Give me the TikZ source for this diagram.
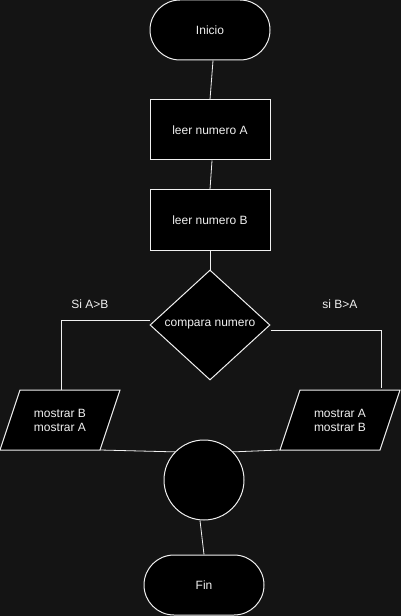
\documentclass[tikz,border=0pt]{standalone}
\usepackage{fontspec}
\setmainfont{Liberation Sans}
\usetikzlibrary{shapes.geometric}
\definecolor{bg}{HTML}{141414}
\definecolor{fg}{HTML}{F0F0F0}
\begin{document}
\begin{tikzpicture}[x=0.75pt,y=-0.75pt,
  font=\fontsize{9}{10.5}\selectfont,
  pill/.style={draw=fg, fill=black, text=fg, rounded corners=22.5pt, minimum width=90pt, minimum height=45pt, line width=0.75pt},
  procbox/.style={draw=fg, fill=black, text=fg, minimum width=90pt, minimum height=45pt, line width=0.75pt},
  decision/.style={diamond, draw=fg, fill=black, text=fg, aspect=1.09, inner sep=0pt, minimum width=90pt, minimum height=82.5pt, line width=0.75pt},
  joint/.style={circle, draw=fg, fill=black, inner sep=0pt, minimum size=60pt, line width=0.75pt},
  iobox/.style={draw=fg, fill=black, line width=0.75pt},
  iotext/.style={text=fg, align=center, inner sep=0pt},
  lbl/.style={text=fg, inner sep=1pt},
  conn/.style={draw=fg, line width=0.6pt}]
\useasboundingbox (0,0) rectangle (401,616);
\fill[bg] (0,0) rectangle (401,616);

% shapes
\node[pill] (inicio) at (210,30) {Inicio};
\node[procbox] (leerA) at (210,130) {leer numero A};
\node[procbox] (leerB) at (210,220) {leer numero B};
\node[decision] (cmp) at (210,325) {compara numero};
\path[iobox] (20,390) -- (120,390) -- (100,450) -- (0,450) -- cycle;
\path[iobox] (300,390) -- (400,390) -- (380,450) -- (280,450) -- cycle;
\node[iotext] (outL) at (60,420) {mostrar B\\mostrar A};
\node[iotext] (outR) at (340,420) {mostrar A\\mostrar B};
\coordinate (pLtop) at (61,390);
\coordinate (pRtop) at (381,388);
\coordinate (pLbot) at (100,450);
\coordinate (pRbot) at (280,450);
\node[joint] (join) at (204,480) {};
\node[pill] (fin) at (204,585) {Fin};

% labels
\node[lbl] (lblL) at (90,304) {Si A>B};
\node[lbl] (lblR) at (340,304) {si B>A};

% connectors
\draw[conn] ([xshift=2.25pt]inicio.south) -- (leerA.north);
\draw[conn] ([xshift=1.5pt]leerA.south) -- (leerB.north);
\draw[conn] (leerB.south) -- (cmp.north);
\draw[conn] ([yshift=3.2pt]cmp.west) -| (pLtop);
\draw[conn] ([yshift=-3.75pt]cmp.east) -| (pRtop);
\draw[conn] (pLbot) -- (join.136);
\draw[conn] (pRbot) -- (join.44);
\draw[conn] ([xshift=-3pt]join.south) -- (fin.north);
\end{tikzpicture}
\end{document}
